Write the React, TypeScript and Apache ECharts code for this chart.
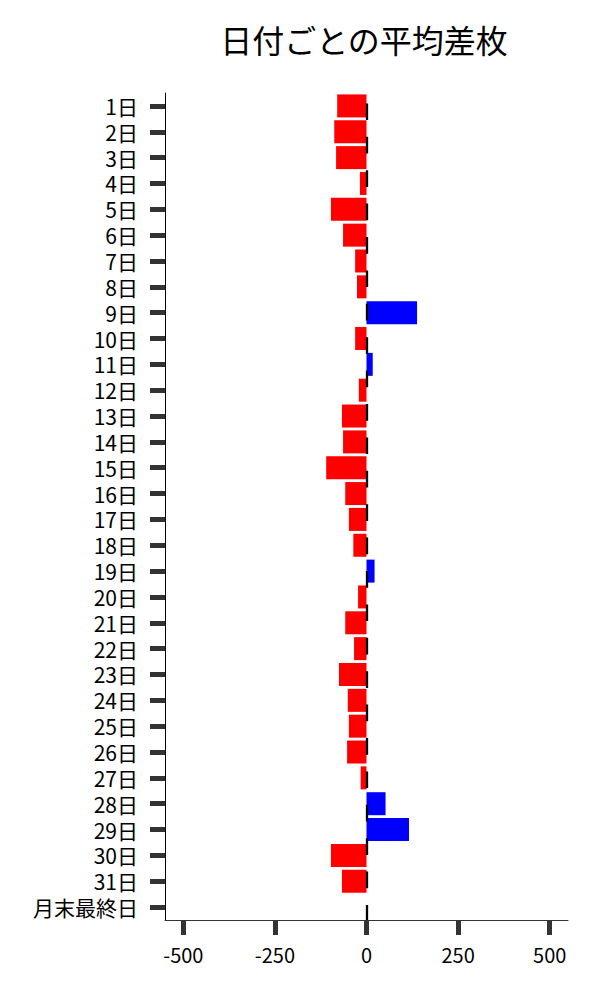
import React, { useEffect, useRef } from "react";
import * as echarts from "echarts";

const TITLE = "日付ごとの平均差枚";
const categories = [
  "1日", "2日", "3日", "4日", "5日", "6日", "7日", "8日", "9日", "10日",
  "11日", "12日", "13日", "14日", "15日", "16日", "17日", "18日", "19日", "20日",
  "21日", "22日", "23日", "24日", "25日", "26日", "27日", "28日", "29日", "30日",
  "31日", "月末最終日",
];
const values = [
  -80, -88, -83, -18, -97, -64, -31, -26, 138, -31,
  17, -21, -67, -64, -110, -58, -48, -36, 22, -23,
  -58, -34, -75, -51, -48, -53, -16, 52, 116, -97,
  -67, 0,
];
const xTicks = [-500, -250, 0, 250, 500];
const X_MIN = -550;
const X_MAX = 550;

const FONT = "'Noto Sans CJK JP', 'Noto Sans', sans-serif";

export default function App() {
  const ref = useRef<HTMLDivElement>(null);
  useEffect(() => {
    if (!ref.current) return;
    const chart = echarts.init(ref.current, undefined, { renderer: "svg" });
    chart.setOption({
      animation: false,
      backgroundColor: "#ffffff",
      title: {
        text: TITLE,
        left: 351,
        top: 10,
        textAlign: "center",
        textStyle: { fontFamily: FONT, fontSize: 32, fontWeight: "normal", color: "#000" },
      },
      grid: { left: 157, right: 32, top: 85, bottom: 80, containLabel: false },
      xAxis: {
        type: "value",
        min: X_MIN,
        max: X_MAX,
        axisLine: { show: true, onZero: false, lineStyle: { color: "#333", width: 1 } },
        axisTick: { show: true, customValues: xTicks, length: 15, lineStyle: { color: "#333", width: 5 } },
        axisLabel: { customValues: xTicks, margin: 24, fontFamily: FONT, fontSize: 20, color: "#000" },
        splitLine: { show: false },
      },
      yAxis: {
        type: "category",
        data: categories,
        inverse: true,
        axisLine: { show: true, onZero: false, lineStyle: { color: "#000", width: 1 } },
        axisTick: { show: true, alignWithLabel: true, length: 15, lineStyle: { color: "#333", width: 5 } },
        axisLabel: { margin: 27, fontFamily: FONT, fontSize: 21, lineHeight: 22, color: "#000", interval: 0 },
      },
      series: [
        {
          type: "bar",
          barWidth: "89%",
          data: values.map((v) => ({
            value: v,
            itemStyle: { color: v < 0 ? "#ff0000" : "#0000ff" },
          })),
          markLine: {
            silent: true,
            symbol: ["none", "none"],
            label: { show: false },
            lineStyle: { color: "#000", width: 2.3, type: [16.7, 16.7], dashOffset: 23 },
            data: [{ xAxis: 0 }],
            z: 10,
          },
        },
      ],
    });
    return () => chart.dispose();
  }, []);
  return <div ref={ref} style={{ width: 592, height: 992 }} />;
}
